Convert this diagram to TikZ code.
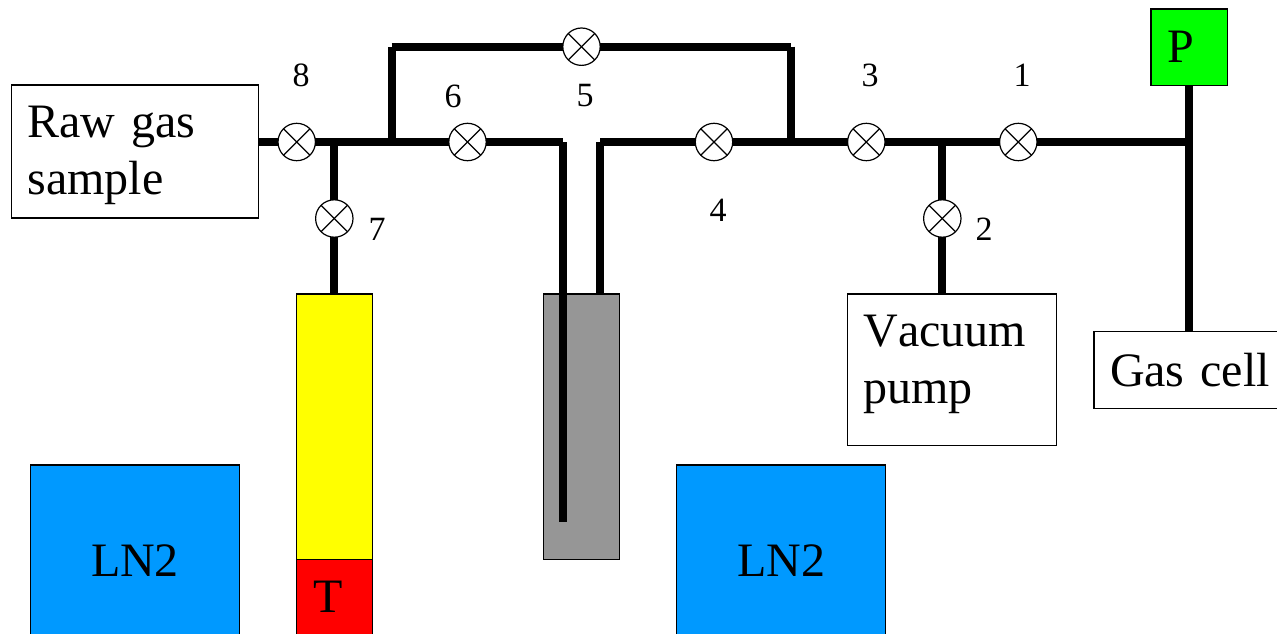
\documentclass[tikz,border=0pt]{standalone}
\usepackage{fontspec}
\setmainfont[Kerning=Off]{Liberation Serif}
\newcommand\lowerline[1]{\rule{0pt}{#1pt}}
\newcommand\raiseline[1]{\rule[-#1pt]{0pt}{#1pt}}
\newcommand\boxfont{\fontsize{48}{57}\selectfont\setlength{\spaceskip}{10.5pt}}
\definecolor{lnblue}{HTML}{0099FF}
\definecolor{probegrey}{HTML}{969696}
\definecolor{trapyellow}{HTML}{FFFF00}
\definecolor{gaugegreen}{HTML}{00FF00}
\definecolor{tipred}{HTML}{FF0000}
\tikzset{
  x=1pt,y=-1pt,
  box/.style={draw=black,line width=1.2pt,fill=white,rectangle,inner sep=0pt,outer sep=0pt,
    font=\boxfont},
  textbox/.style={box,align=left},
  pipe/.style={line width=8pt,black,line cap=butt},
  valve/.style={circle,draw=black,fill=white,line width=1.2pt,minimum size=37.4pt,inner sep=0pt,outer sep=0pt,
    path picture={
      \draw[line width=1.2pt] (path picture bounding box.south west) -- (path picture bounding box.north east);
      \draw[line width=1.2pt] (path picture bounding box.north west) -- (path picture bounding box.south east);
    }},
  num/.style={font=\fontsize{34}{40}\selectfont,inner sep=0pt},
}
\begin{document}
\begin{tikzpicture}
\useasboundingbox (0,0) rectangle (1277,634);
% boxes
\node[textbox,minimum width=247pt,minimum height=133pt,text width=215pt,inner xsep=16pt] (raw) at (135,151.5)
  {\lowerline{40}Raw gas\\sample};
\node[textbox,minimum width=209pt,minimum height=151.5pt,text width=177pt,inner xsep=16pt] (vac) at (952,369.75)
  {Vacuum\\pump\raiseline{21}};
\node[textbox,minimum width=200pt,minimum height=77pt,text width=168pt,inner xsep=16pt] (cell) at (1194,370)
  {Gas cell};
\node[box,fill=gaugegreen,minimum width=76.5pt,minimum height=76.5pt,text width=44pt,inner xsep=16pt,align=left] (pg) at (1189.2,47.25) {P};
\node[box,fill=trapyellow,minimum width=76pt,minimum height=265.5pt] (trap) at (334.5,426.75) {};
\node[box,fill=tipred,minimum width=76pt,minimum height=75pt,text width=42pt,inner xsep=17pt,align=left] (tc) at (334.5,597) {T};
\node[box,fill=probegrey,minimum width=76pt,minimum height=265.5pt] (grey) at (581.5,426.75) {};
\node[box,fill=lnblue,minimum width=209pt,minimum height=192pt] (lna) at (135,561) {LN2};
\node[box,fill=lnblue,minimum width=209pt,minimum height=192pt] (lnb) at (781,561) {LN2};
% valves
\node[valve] (v1) at (1018.3,142) {};
\node[valve] (v2) at (942.3,218.5) {};
\node[valve] (v3) at (866.3,142) {};
\node[valve] (v4) at (714,142) {};
\node[valve] (v5) at (581.5,46.7) {};
\node[valve] (v6) at (467.5,142) {};
\node[valve] (v7) at (334.3,218.5) {};
\node[valve] (v8) at (296.7,142) {};
% junctions
\coordinate (jleft) at (391.7,142);
\coordinate (jseven) at (334.3,142);
\coordinate (jright) at (790.7,142);
\coordinate (jvac) at (942.3,142);
\coordinate (jp) at (1189.3,142);
\coordinate (tl) at (391.7,46.7);
\coordinate (tr) at (790.7,46.7);
\coordinate (pl) at (562.7,142);
\coordinate (pr) at (600.3,142);
\coordinate (pltip) at (562.7,522);
% pipes
\draw[pipe] (raw.east |- v8) -- (v8);
\draw[pipe] (v8) -- (v6);
\draw[pipe] (v6) -- (pl);
\draw[pipe] (pl) -- (pltip);
\draw[pipe] (pr) -- (pr |- grey.north);
\draw[pipe] (pr) -- (v4);
\draw[pipe] (v4) -- (v3);
\draw[pipe] (v3) -- (v1);
\draw[pipe] (v1) -- (jp);
\draw[pipe] (jseven) -- (v7);
\draw[pipe] (v7) -- (jseven |- trap.north);
\draw[pipe] (jleft) -- (tl);
\draw[pipe] (tl) -- (v5);
\draw[pipe] (v5) -- (tr);
\draw[pipe] (tr) -- (jright);
\draw[pipe] (jvac) -- (v2);
\draw[pipe] (v2) -- (jvac |- vac.north);
\draw[pipe] (jp |- pg.south) -- (jp |- cell.north);
% numbers
\node[num] (n1) at (1022,75) {1};
\node[num] (n2) at (984,229) {2};
\node[num] (n3) at (870,75) {3};
\node[num] (n4) at (718,210) {4};
\node[num,fill=white,minimum width=36pt,minimum height=59.6pt] (n5) at (585,95.5) {5};
\node[num] (n6) at (453,96) {6};
\node[num] (n7) at (377,229) {7};
\node[num] (n8) at (301,75) {8};
\end{tikzpicture}
\end{document}
